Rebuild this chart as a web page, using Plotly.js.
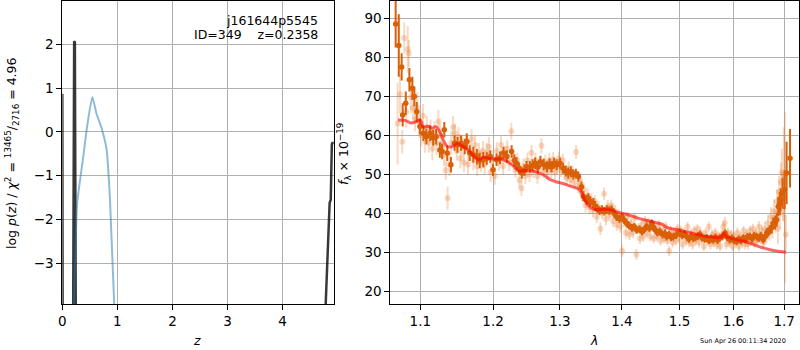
<!DOCTYPE html>
<html><head><meta charset="utf-8">
<script src="https://cdn.plot.ly/plotly-3.0.1.min.js"></script>
<style>html,body{margin:0;padding:0;background:#fff}#plot{width:800px;height:350px}</style>
</head><body><div id="plot"></div>
<script>
// ---- left panel: redshift probability ----
const zBlack = [0, 0.006, 0.05, 0.18, 0.196, 0.215, 0.228, 0.245, 0.3, 4.7, 4.775, 4.855, 4.875, 4.895, 4.905, 4.93];
const logpBlack = [0.87, -4.5, -30, -30, -4.5, 2.07, 2.05, -4.5, -30, -30, -4.2, -1.62, -1.55, -0.28, -0.25, -0.25];
const zBlue = [0.21, 0.27, 0.38, 0.45, 0.545, 0.62, 0.715, 0.805, 0.866, 0.945];
const logpBlue = [-4.0, -1.63, -0.57, 0.12, 0.80, 0.42, 0.08, -0.41, -1.55, -4.0];
const zTicks = [0, 1, 2, 3, 4];
const logpTicks = [-3, -2, -1, 0, 1, 2];

// ---- right panel: spectrum ----
const darkLam = [
1.068,1.072,1.0757,1.077,1.081,1.0857,1.0896,1.0922,1.0953,1.0994,
1.104,1.108,1.113,1.117,1.121,1.126,1.129,1.132,1.136,1.141,
1.146,1.150,1.155,1.160,1.163,1.167,1.172,1.177,1.181,1.186,
1.191,1.196,1.200,1.205,1.210,1.215,1.220,1.227,1.231,1.234,
1.238,1.242,1.246,1.249,1.254,1.258,1.262,1.266,1.270,1.275,
1.280,1.284,1.287,1.291,1.295,1.300,1.305,1.309,1.313,1.317,
1.321,1.325,1.329,1.334,1.337,1.342,1.345,1.348,1.353,1.356,
1.359,1.363,1.367,1.371,1.375,1.379,1.383,1.387,1.391,1.396,
1.400,1.404,1.408,1.412,1.417,1.421,1.425,1.430,1.434,1.438,
1.442,1.447,1.451,1.454,1.457,1.461,1.465,1.470,1.474,1.477,
1.481,1.485,1.489,1.494,1.500,1.505,1.509,1.513,1.517,1.521,
1.525,1.529,1.533,1.537,1.541,1.546,1.550,1.554,1.558,1.562,
1.566,1.570,1.574,1.579,1.584,1.588,1.593,1.597,1.601,1.606,
1.610,1.614,1.619,1.623,1.627,1.632,1.636,1.640,1.645,1.649,
1.653,1.658,1.662,1.665,1.668,1.671,1.675,1.678,1.682,1.685,
1.688,1.691,1.693,1.697,1.701,1.705,1.712];
const darkFlux = [
88.5,83,77.5,65.2,68.2,74.2,72,69.9,66,62.2,
60.5,59.6,60.5,59.3,59.6,56.2,55.8,61.4,55.4,52.4,
58,57.5,58,57.1,58.4,55.4,55,54.5,53.5,53.7,
54,54.5,51.1,53.7,54.2,55.4,54.5,55.8,53.5,52.8,
51.5,50.3,51,51.9,51.9,52.3,52.8,51.8,53.2,52.5,
51.9,52.6,51.9,52.8,52.4,52.8,51.5,50.8,50.3,50.6,
49.9,50.1,49.4,46.8,44.3,43.4,43.8,43,42.6,41.8,
41.3,40.6,40.9,40.5,40.9,40.7,40.9,40,39.1,38.5,
39.1,38.2,37.4,36.8,36.2,36.5,35.7,35.9,35.3,35.8,
36.6,36.1,37.4,36.4,35.7,35,35.3,34.5,34.8,34,
34.5,33.8,34,34.4,34.9,34.3,34.6,34,33.4,34.1,
33.6,33.8,34.1,34.5,33.7,33.4,33.6,33,33.5,33.2,
33.8,33.1,33.6,34,34.9,33.8,33.2,33.5,33,32.8,
33.3,33,33.6,33.2,33.9,34,33.5,34.2,34,33.6,
34.2,33.2,34.1,34.9,35.2,35.7,36.3,37.4,37.6,38.3,
41.7,42.5,43.4,45.1,46,50.3,54.1];
const darkErr = [
6,8,3.5,3,3,3,3,2.5,2.5,2,
2,2,2,2,2,2,2,2,2,2,
2,2,2,2,2,2,2,2,2,2,
1.6,1.6,1.6,1.6,1.6,1.6,1.6,1.6,1.6,1.6,
1.5,1.5,1.5,1.5,1.5,1.5,1.5,1.5,1.5,1.5,
1.4,1.4,1.4,1.4,1.4,1.4,1.4,1.4,1.4,1.4,
1.3,1.3,1.3,1.3,1.3,1.3,1.3,1.3,1.3,1.3,
1.1,1.1,1.1,1.1,1.1,1.1,1.1,1.1,1.1,1.1,
1,1,1,1,1,1,1,1,1,1,
1,1,1,1,1,1,1,1,1,1,
1,1,1,1,1,1,1,1,1,1,
1,1,1,1,1,1,1,1,1,1,
1,1,1,1,1,1,1,1,1,1,
1,1,1,1,1,1,1,1,1,1,
1,1,1,1.2,1.2,1.2,1.5,1.5,1.8,1.8,
2.5,3,3,4,5,8,7.5];

const lightLam = [
1.0705,1.0735,1.0765,1.0790,1.0815,1.0835,1.0850,1.0875,1.0905,1.0930,
1.0960,1.0985,1.1010,1.1035,1.1060,1.1085,1.1110,1.1135,1.1160,1.1185,
1.1215,1.1240,1.1265,1.1290,1.1315,1.1340,1.1365,1.1390,1.1415,1.1440,
1.1465,1.1490,1.1515,1.1540,1.1565,1.1590,1.1620,1.1645,1.1670,1.1695,
1.1720,1.1745,1.1775,1.1800,1.1830,1.1855,1.1880,1.1910,1.1940,1.1965,
1.1995,1.2025,1.2055,1.2085,1.2115,1.2145,1.2175,1.2205,1.2235,1.2265,
1.2295,1.2325,1.2355,1.2385,1.2415,1.2445,1.2475,1.2505,1.2535,1.2565,
1.2595,1.2625,1.2655,1.2685,1.2715,1.2745,1.2775,1.2805,1.2835,1.2865,
1.2895,1.2925,1.2955,1.2985,1.3015,1.3045,1.3075,1.3105,1.3135,1.3165,
1.3195,1.3225,1.3255,1.3285,1.3315,1.3345,1.3375,1.3405,1.3435,1.3465,
1.3495,1.3525,1.3555,1.3585,1.3615,1.3645,1.3675,1.3705,1.3735,1.3765,
1.3795,1.3825,1.3855,1.3885,1.3915,1.3945,1.3975,1.4005,1.4035,1.4065,
1.4095,1.4125,1.4155,1.4185,1.4215,1.4245,1.4275,1.4305,1.4335,1.4365,
1.4395,1.4425,1.4455,1.4485,1.4515,1.4545,1.4575,1.4605,1.4635,1.4665,
1.4695,1.4725,1.4755,1.4785,1.4815,1.4845,1.4875,1.4905,1.4935,1.4965,
1.4995,1.5025,1.5055,1.5085,1.5115,1.5145,1.5175,1.5205,1.5235,1.5265,
1.5295,1.5325,1.5355,1.5385,1.5415,1.5445,1.5475,1.5505,1.5535,1.5565,
1.5595,1.5625,1.5655,1.5685,1.5715,1.5745,1.5775,1.5805,1.5835,1.5865,
1.5895,1.5925,1.5955,1.5985,1.6015,1.6045,1.6075,1.6105,1.6135,1.6165,
1.6195,1.6225,1.6255,1.6285,1.6315,1.6345,1.6375,1.6405,1.6435,1.6465,
1.6495,1.6525,1.6555,1.6585,1.6615,1.6645,1.6675,1.6705,1.6735,1.6765,
1.6795,1.6825,1.6855,1.6875,1.6895,1.6915,1.6935,1.6955,1.6975,1.6995,
1.7015,1.7035];
const lightFlux = [
63,70.5,58.3,84.9,66,82,81,69.7,67,64,
67,63.5,60,65,58.5,62,58,61,56.5,60.5,
58,63.5,60,57.5,55,51,43.8,52.5,58,62,
60.5,56,59.5,54,57,53,58,52.5,56,59,
53.5,57.5,52,55.5,53,56,52.5,55.5,57,50.5,
54,49.5,56,53,57.5,52,55,56.5,53,61,
54,51,53.5,48.5,46.4,52,49.5,53.5,50,55.5,
51,53.5,49.5,52.5,57.3,51,53,50.5,53.5,51,
53.8,50.5,52,54,51,53.5,50.5,49,51.5,48.5,
50.5,48,55.7,47,48.5,45,46,42,44.5,41.5,
43.5,40.5,43,39,41.5,36,40,45,38.5,41.8,
39.5,42,38,40.5,37,39.5,36.5,30.3,38,35,
39,34.5,37.5,35,38.8,29.4,36,33.5,37,34,
38,35,37.5,34,36.5,33.5,36,34,37,33,
35.5,33.5,36.5,33,30.3,35.5,32.5,35,33,36,
33.5,35.5,32,35,33,36.5,32.5,34.5,32,35.5,
33,36,32.5,35,33.5,31.5,35,33,36.5,32,
34.5,32.5,35,32,34,31.5,34.5,36.5,37.5,32,
35,32.5,34.5,31.5,34,32.5,35,31.5,34,32.5,
35.5,32,34.5,32,35.5,33,36,32.5,35,33,
36.5,33.5,35.5,32.5,36,34,37.5,35,39,36.5,
40.5,38,43,36,45.5,40,48,50.5,44,50,
44,34.5];
const lightErr = [
10.5,5,3,4,4,6,3.5,4,3,3,
4,3,3,3,3,3,2.5,3,3,3,
3,3,3,3,3,2.5,3,3,3,3,
2.5,2.5,2.5,2.5,2.5,2.5,2.5,2.5,2.5,2.5,
2.5,2.5,2.5,2.5,2.5,2.5,2.5,2.5,2.5,2.5,
2.2,2.2,2.2,2.2,2.2,2.2,2.2,2.2,2.2,2.2,
2,2,2,2,2,2,2,2,2,2,
2,2,2,2,2,2,2,2,2,2,
1.8,1.8,1.8,1.8,1.8,1.8,1.8,1.8,1.8,1.8,
1.8,1.8,1.8,1.8,1.8,1.8,1.8,1.8,1.8,1.8,
1.6,1.6,1.6,1.6,1.6,1.6,1.6,1.6,1.6,1.6,
1.5,1.5,1.5,1.5,1.5,1.5,1.5,1.5,1.5,1.5,
1.4,1.4,1.4,1.4,1.4,1.4,1.4,1.4,1.4,1.4,
1.3,1.3,1.3,1.3,1.3,1.3,1.3,1.3,1.3,1.3,
1.3,1.3,1.3,1.3,1.3,1.3,1.3,1.3,1.3,1.3,
1.3,1.3,1.3,1.3,1.3,1.3,1.3,1.3,1.3,1.3,
1.3,1.3,1.3,1.3,1.3,1.3,1.3,1.3,1.3,1.3,
1.3,1.3,1.3,1.3,1.3,1.3,1.3,1.3,1.5,1.3,
1.3,1.3,1.3,1.3,1.3,1.3,1.3,1.3,1.3,1.3,
1.3,1.3,1.3,1.3,1.3,1.3,1.3,1.3,1.3,1.3,
1.5,1.5,1.5,1.5,1.8,1.8,2,2,2.5,3,
3,3,3,4,4,4,5,6,6,12,
22,5];

const modelLam = [1.071,1.080,1.088,1.094,1.100,1.104,1.110,1.116,1.121,1.126,
1.130,1.136,1.142,1.150,1.156,1.166,1.175,1.180,1.186,1.193,
1.200,1.210,1.220,1.230,1.237,1.245,1.255,1.265,1.275,1.285,
1.295,1.305,1.315,1.325,1.330,1.335,1.339,1.345,1.352,1.360,
1.370,1.380,1.390,1.400,1.410,1.420,1.430,1.440,1.450,1.460,
1.470,1.475,1.480,1.490,1.500,1.510,1.520,1.530,1.540,1.550,
1.560,1.570,1.577,1.582,1.587,1.595,1.605,1.615,1.625,1.640,
1.655,1.670,1.685,1.703];
const modelFlux = [63.9,63.8,63.1,63.4,63.9,62.0,62.3,61.8,62.2,60.9,
59.0,57.1,57.0,57.9,57.3,56.0,54.2,53.7,54.4,54.1,
53.9,53.9,53.3,52.0,50.8,50.9,50.9,50.5,49.8,48.6,
48.0,47.6,47.0,46.5,46.1,45.0,43.5,42.0,41.1,40.9,
41.0,40.9,40.4,40.0,39.6,39.1,38.6,38.2,37.9,37.5,
37.1,36.5,36.2,35.9,35.7,35.3,35.0,34.6,34.3,34.0,
33.9,33.7,33.9,34.9,33.9,33.6,33.2,32.9,32.6,31.9,
31.2,30.7,30.3,30.0];
const lamTicks = [1.1, 1.2, 1.3, 1.4, 1.5, 1.6, 1.7];
const fluxTicks = [20, 30, 40, 50, 60, 70, 80, 90];

const orange = 'rgb(217,96,8)';
const orangeLight = 'rgba(230,120,40,0.28)';
const font = {family: 'DejaVu Sans', size: 12.5, color: '#000'};
const tickFont = {family: 'DejaVu Sans', size: 13.5, color: '#000'};

const traces = [
  {x: zBlack, y: logpBlack, xaxis: 'x', yaxis: 'y', mode: 'lines', line: {color: 'rgba(0,0,0,0.78)', width: 2.5}, hoverinfo: 'skip'},
  {x: zBlue, y: logpBlue, xaxis: 'x', yaxis: 'y', mode: 'lines', line: {color: 'rgba(31,119,180,0.5)', width: 2, shape: 'spline', smoothing: 0.5}, hoverinfo: 'skip'},
  {x: lightLam, y: lightFlux, xaxis: 'x2', yaxis: 'y2', mode: 'markers',
   marker: {color: orangeLight, size: 6},
   error_y: {type: 'data', array: lightErr, visible: true, color: orangeLight, thickness: 2, width: 0}, hoverinfo: 'skip'},
  {x: darkLam, y: darkFlux, xaxis: 'x2', yaxis: 'y2', mode: 'markers',
   marker: {color: orange, size: 5.5},
   error_y: {type: 'data', array: darkErr, visible: true, color: orange, thickness: 2, width: 0}, hoverinfo: 'skip'},
  {x: modelLam, y: modelFlux, xaxis: 'x2', yaxis: 'y2', mode: 'lines',
   line: {color: 'rgba(255,0,0,0.6)', width: 3, shape: 'spline', smoothing: 0.6}, hoverinfo: 'skip'}
];

const axBase = {showline: true, mirror: true, linecolor: '#000', linewidth: 1,
  showgrid: true, gridcolor: '#b0b0b0', gridwidth: 1, zeroline: false,
  ticks: 'outside', ticklen: 5, tickwidth: 1, tickcolor: '#000', tickfont: tickFont};

const layout = {
  width: 800, height: 350, margin: {l: 0, r: 0, t: 0, b: 0},
  paper_bgcolor: '#fff', plot_bgcolor: '#fff', showlegend: false, font: font,
  xaxis: Object.assign({}, axBase, {domain: [0.0779, 0.4179], range: [0, 4.94], tickvals: zTicks, anchor: 'y'}),
  yaxis: Object.assign({}, axBase, {domain: [0.1314, 0.9971], range: [-3.93, 2.99], tickvals: logpTicks, anchor: 'x'}),
  xaxis2: Object.assign({}, axBase, {domain: [0.4879, 0.9985], type: 'log', range: [Math.log10(1.0612), Math.log10(1.7301)],
    tickvals: lamTicks, ticktext: lamTicks.map(v => v.toFixed(1)), anchor: 'y2'}),
  yaxis2: Object.assign({}, axBase, {domain: [0.1314, 0.9971], range: [16.7, 94.4], tickvals: fluxTicks, anchor: 'x2'}),
  annotations: [
    {xref: 'paper', yref: 'paper', x: 319.5/800, y: 1 - 20/350, xanchor: 'right', yanchor: 'middle', showarrow: false,
     text: 'j161644p5545', font: font},
    {xref: 'paper', yref: 'paper', x: 319.5/800, y: 1 - 35/350, xanchor: 'right', yanchor: 'middle', showarrow: false,
     text: 'ID=349\u00a0\u00a0\u00a0\u00a0z=0.2358', font: font},
    {xref: 'paper', yref: 'paper', x: 12/800, y: 1 - 153/350, xanchor: 'center', yanchor: 'middle', showarrow: false, textangle: -90,
     text: 'log <i>p</i>(<i>z</i>) / <i>χ</i><sup>2</sup> = <sup>13465</sup>/<sub>2716</sub> = 4.96', font: font},
    {xref: 'paper', yref: 'paper', x: 197/800, y: 1 - 340/350, xanchor: 'center', yanchor: 'middle', showarrow: false,
     text: '<i>z</i>', font: font},
    {xref: 'paper', yref: 'paper', x: 344/800, y: 1 - 154/350, xanchor: 'center', yanchor: 'middle', showarrow: false, textangle: -90,
     text: '<i>f</i><sub>λ</sub> × 10<sup>−19</sup>', font: font},
    {xref: 'paper', yref: 'paper', x: 594/800, y: 1 - 340/350, xanchor: 'center', yanchor: 'middle', showarrow: false,
     text: '<i>λ</i>', font: font},
    {xref: 'paper', yref: 'paper', x: 788/800, y: 1 - 340.5/350, xanchor: 'right', yanchor: 'middle', showarrow: false,
     text: 'Sun Apr 26 00:11:34 2020', font: {family: 'DejaVu Sans', size: 6.5, color: '#000'}}
  ]
};

Plotly.newPlot('plot', traces, layout, {staticPlot: true});
</script>
</body></html>
